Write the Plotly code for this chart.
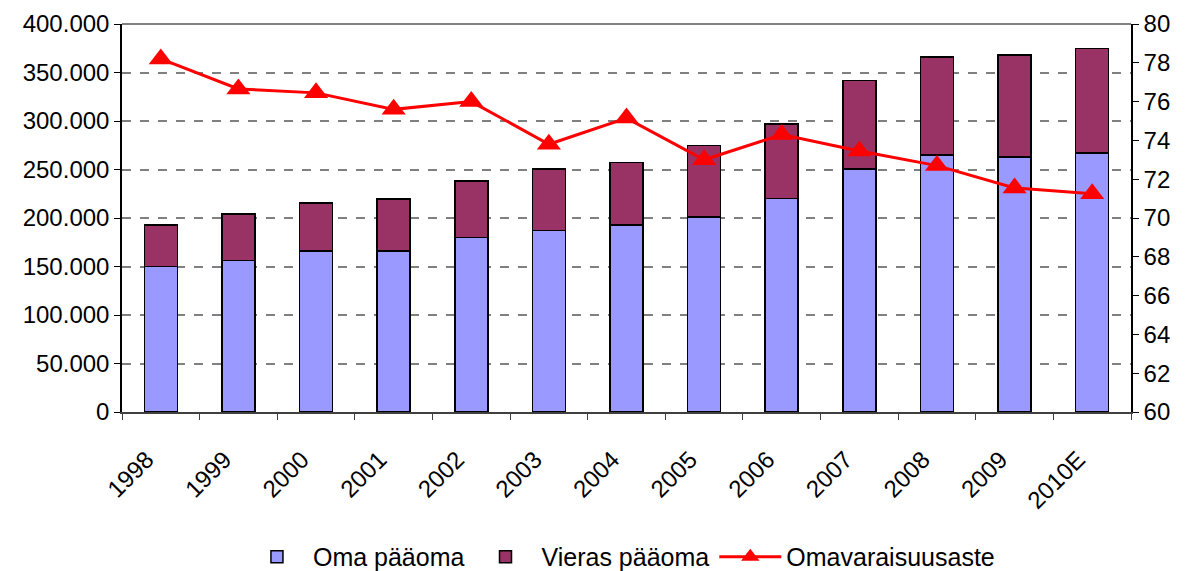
import plotly.graph_objects as go

years = ['1998', '1999', '2000', '2001', '2002', '2003', '2004',
         '2005', '2006', '2007', '2008', '2009', '2010E']
oma_paaoma = [150000, 156000, 166000, 166000, 180000, 187000, 193000,
              201000, 220000, 250500, 265000, 263000, 267000]
vieras_paaoma = [43000, 48000, 49500, 53600, 58000, 63500, 64000,
                 74000, 77000, 91500, 101000, 105000, 108000]
omavaraisuusaste = [78.2, 76.65, 76.45, 75.6, 76.0, 73.8, 75.15,
                    73.0, 74.3, 73.45, 72.7, 71.55, 71.25]

font = dict(family='Liberation Sans, Arial, sans-serif', size=24, color='black')

fig = go.Figure()

fig.add_trace(go.Bar(
    x=years, y=oma_paaoma, name='Oma pääoma',
    marker=dict(color='#9999FF', line=dict(color='black', width=1.5)),
))
fig.add_trace(go.Bar(
    x=years, y=vieras_paaoma, name='Vieras pääoma',
    marker=dict(color='#993366', line=dict(color='black', width=1.5)),
))
fig.add_trace(go.Scatter(
    x=years, y=omavaraisuusaste, name='Omavaraisuusaste', yaxis='y2',
    mode='lines+markers',
    line=dict(color='#FF0000', width=3),
    marker=dict(symbol='triangle-up', size=21, color='#FF0000'),
))

# page body has an 8px margin, so the figure is sized/offset for it
fig.update_layout(
    width=1180, height=563,
    barmode='stack', bargap=0.575,
    separators=',.',
    font=font,
    plot_bgcolor='white', paper_bgcolor='white',
    margin=dict(l=114, r=57, t=16, b=159),
    showlegend=True,
    legend=dict(orientation='h', x=0.494, xanchor='center', yref='container',
                y=0.025, yanchor='middle', font=dict(size=25),
                traceorder='normal', itemwidth=62),
    xaxis=dict(
        type='category', range=[-0.5, 12.5], tickangle=-45,
        showline=True, linecolor='#404040', linewidth=2,
        ticks='outside', tickson='boundaries', ticklen=6, tickcolor='#404040',
        ticklabelstandoff=22, ticklabelshift=-14,
        showgrid=False, tickfont=dict(size=24), automargin=False,
    ),
    yaxis=dict(
        range=[0, 400000], dtick=50000, tickformat=',d',
        showline=True, linecolor='black', linewidth=1.5,
        ticks='outside', ticklen=6, tickcolor='black',
        showgrid=True, gridcolor='#808080', griddash='dash', gridwidth=1.5,
        zeroline=False, tickfont=dict(size=24), automargin=False,
    ),
    yaxis2=dict(
        overlaying='y', side='right', range=[60, 80], dtick=2,
        showline=True, linecolor='black', linewidth=1.5,
        ticks='outside', ticklen=6, tickcolor='black',
        showgrid=False, zeroline=False, tickfont=dict(size=24), automargin=False,
    ),
    shapes=[dict(type='line', xref='paper', yref='paper', x0=0, x1=1, y0=1, y1=1,
                 line=dict(color='#808080', width=2))],
)

fig.write_html('out.html')
